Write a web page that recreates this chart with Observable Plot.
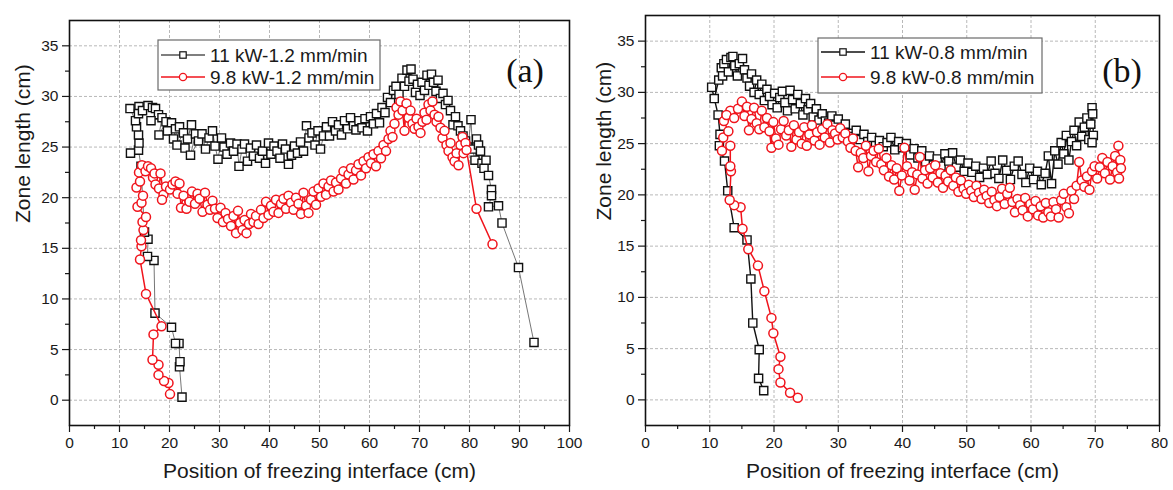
<!DOCTYPE html>
<html><head><meta charset="utf-8">
<script src="https://cdn.jsdelivr.net/npm/d3@7"></script>
<script src="https://cdn.jsdelivr.net/npm/@observablehq/plot@0.6"></script>
<style>
body{margin:0;background:#fff}
#wrap{position:relative;width:1173px;height:490px;overflow:hidden;background:#fff;font-family:"Liberation Sans",Arial,sans-serif}
.panel{position:absolute;top:0}
#overlay{position:absolute;left:0;top:0;pointer-events:none}
</style></head>
<body><div id="wrap"><div id="pa" class="panel" style="left:0"></div><div id="pb" class="panel" style="left:590px"></div></div>
<script>
// ---- data: [position of freezing interface (cm), zone length (cm)] ----
const a11kW = [[22.5,0.3],[22.0,3.3],[22.1,3.8],[21.9,5.6],[21.2,5.6],[20.4,7.2],[17.1,8.6],[16.9,13.8],[15.6,14.2],[15.7,15.9],[15.0,16.6],[14.3,23.1],[13.8,24.7],[12.2,24.4],[13.9,25.4],[13.8,26.2],[13.4,27.0],[13.2,27.6],[12.1,28.8],[13.9,29.0],[13.8,28.3],[14.6,28.6],[15.7,29.1],[16.6,28.9],[17.2,28.8],[17.8,28.2],[16.3,27.6],[18.5,27.9],[17.9,26.2],[19.3,27.5],[20.4,27.4],[19.6,26.6],[21.2,26.8],[20.8,25.8],[22.0,27.0],[21.5,25.2],[22.8,26.4],[23.6,25.8],[24.4,27.2],[23.1,24.9],[25.2,26.3],[24.2,24.2],[25.8,25.6],[26.5,26.3],[27.2,24.8],[27.9,25.9],[28.6,26.6],[29.1,25.1],[29.7,23.8],[30.4,25.9],[30.9,25.0],[31.5,24.3],[32.2,25.4],[32.8,24.6],[33.5,25.3],[33.9,23.1],[34.5,24.8],[35.0,25.3],[35.6,23.6],[36.2,24.9],[36.8,24.1],[37.4,25.2],[38.0,23.9],[38.6,24.6],[39.2,23.4],[39.8,25.4],[40.3,24.3],[40.9,25.1],[41.5,24.6],[42.1,23.9],[42.6,25.3],[43.2,24.8],[43.8,23.3],[44.4,24.2],[45.0,25.1],[45.6,24.4],[46.2,25.5],[46.8,24.6],[47.4,27.1],[47.9,25.9],[48.5,26.4],[49.1,25.2],[49.7,26.6],[50.2,24.8],[50.8,26.1],[51.4,27.0],[52.0,26.1],[52.6,27.5],[53.2,26.6],[53.8,27.2],[54.4,26.2],[55.0,27.6],[55.6,26.8],[56.2,27.9],[56.8,27.1],[57.3,26.7],[57.9,27.6],[58.5,26.9],[59.1,27.8],[59.6,26.6],[60.2,28.0],[60.8,27.3],[61.4,28.3],[62.0,27.4],[62.5,28.9],[63.1,28.4],[63.6,29.9],[64.2,29.4],[64.8,30.6],[65.3,31.0],[65.9,30.2],[66.5,31.8],[67.0,31.0],[67.5,32.6],[67.9,31.5],[68.3,32.7],[68.7,31.7],[69.2,30.4],[69.6,31.2],[70.1,30.1],[70.5,31.4],[71.0,30.6],[71.5,32.1],[71.9,31.1],[72.4,32.2],[72.8,31.4],[73.3,30.5],[73.7,31.6],[74.2,29.8],[74.7,30.3],[75.2,29.2],[75.7,29.6],[76.2,28.6],[76.7,27.2],[77.2,28.0],[77.7,27.1],[78.2,26.6],[78.7,26.1],[79.2,25.6],[79.7,25.0],[80.3,27.7],[80.6,24.8],[81.1,23.7],[81.4,25.8],[81.8,25.2],[82.2,24.6],[82.5,23.4],[82.9,22.9],[83.3,23.7],[83.8,22.2],[84.4,20.8],[84.4,20.2],[83.8,19.1],[85.8,19.2],[86.5,17.5],[89.8,13.1],[92.9,5.7]];
const a98kW = [[20.1,0.6],[19.8,1.7],[18.9,1.9],[17.8,2.5],[17.8,3.5],[16.6,4.0],[16.8,6.5],[18.4,7.3],[15.3,10.5],[14.1,13.9],[14.4,15.2],[14.3,15.8],[14.8,16.8],[14.6,17.6],[15.3,18.1],[13.6,19.1],[14.4,19.5],[14.7,20.2],[13.4,21.0],[14.1,21.6],[13.9,22.5],[14.5,23.2],[15.2,22.6],[15.7,23.1],[16.3,22.9],[16.7,22.0],[17.2,21.3],[17.0,22.4],[17.9,20.9],[18.2,22.4],[18.8,20.3],[19.3,21.1],[18.5,19.8],[20.1,20.8],[20.6,21.3],[21.2,21.6],[21.6,20.4],[22.0,21.4],[22.3,19.0],[22.8,20.2],[23.4,18.9],[24.0,19.6],[24.5,20.6],[25.1,19.4],[25.6,20.4],[26.0,19.9],[26.6,18.6],[27.1,20.5],[27.6,19.3],[28.1,18.8],[28.6,19.7],[29.1,18.9],[29.6,18.0],[30.2,19.0],[30.7,17.6],[31.2,18.5],[31.7,17.9],[32.3,17.2],[32.8,18.2],[33.3,16.5],[33.7,18.7],[34.1,17.5],[34.6,16.8],[35.0,17.8],[35.4,16.5],[35.9,17.4],[36.3,18.4],[36.8,17.6],[37.3,18.2],[37.8,17.4],[38.3,18.8],[38.8,18.0],[39.3,19.6],[39.8,18.3],[40.3,19.2],[40.8,18.6],[41.3,19.8],[41.8,18.5],[42.3,19.4],[42.8,19.9],[43.3,18.9],[43.8,20.2],[44.3,19.5],[44.8,18.8],[45.3,20.0],[45.8,19.4],[46.3,18.4],[46.8,20.5],[47.3,19.2],[47.8,18.5],[48.3,19.8],[48.8,20.6],[49.3,19.3],[49.8,20.9],[50.3,20.1],[50.8,21.4],[51.3,20.3],[51.8,21.1],[52.3,21.7],[52.8,20.6],[53.3,21.5],[53.8,20.8],[54.3,21.9],[54.8,22.6],[55.3,21.4],[55.8,22.3],[56.3,22.9],[56.8,21.8],[57.3,22.7],[57.8,23.3],[58.3,22.2],[58.8,23.6],[59.3,22.9],[59.8,24.0],[60.3,23.4],[60.8,24.3],[61.3,23.1],[61.8,24.6],[62.3,23.9],[62.8,25.2],[63.3,24.6],[63.8,25.8],[64.2,26.6],[64.6,26.0],[65.0,27.3],[65.4,28.9],[65.8,28.2],[66.2,29.5],[66.6,28.6],[67.0,26.6],[67.4,29.3],[67.8,27.9],[68.2,28.6],[68.6,27.3],[69.0,26.8],[69.4,27.8],[69.8,27.0],[70.2,26.4],[70.6,27.5],[71.0,28.4],[71.4,27.7],[71.8,29.2],[72.2,28.6],[72.6,29.5],[73.0,28.2],[73.4,27.5],[73.8,28.0],[74.2,26.9],[74.6,25.9],[75.0,26.6],[75.4,25.2],[75.8,24.6],[76.2,25.4],[76.6,24.0],[77.0,23.6],[77.4,24.4],[77.8,23.2],[78.2,25.2],[78.6,26.0],[78.8,24.4],[79.2,25.4],[79.4,24.7],[81.4,18.9],[84.6,15.4]];
const b11kW = [[18.4,0.9],[17.6,2.1],[17.7,4.9],[16.7,7.5],[16.4,11.8],[15.8,15.6],[13.8,16.8],[12.8,20.4],[12.3,23.3],[11.5,24.8],[11.6,25.9],[11.3,27.8],[10.3,30.5],[10.7,29.4],[11.4,31.2],[11.8,32.4],[12.2,32.8],[12.0,31.6],[12.6,33.2],[12.9,32.0],[13.3,33.4],[13.6,33.5],[13.9,32.6],[14.3,31.6],[14.6,32.8],[15.1,33.3],[15.4,32.2],[15.8,31.4],[16.2,30.6],[16.5,31.8],[16.9,30.0],[17.3,31.2],[17.7,29.8],[18.1,30.8],[18.5,29.2],[18.9,30.3],[19.3,29.6],[19.7,28.8],[20.1,29.9],[20.5,28.5],[20.9,29.5],[21.3,30.1],[21.7,29.0],[22.1,28.2],[22.5,30.2],[22.9,29.3],[23.3,28.4],[23.7,29.8],[24.1,28.9],[24.5,27.8],[24.9,29.4],[25.3,28.3],[25.7,28.9],[26.1,27.6],[26.6,28.4],[27.0,27.3],[27.5,27.9],[28.0,27.2],[28.5,27.0],[29.0,27.7],[29.5,26.8],[30.0,27.4],[30.6,26.5],[31.1,26.9],[31.7,26.0],[32.2,25.7],[32.8,26.3],[33.4,25.4],[34.0,25.9],[34.6,25.2],[35.2,25.6],[35.8,24.8],[36.4,25.3],[37.0,24.7],[37.6,25.1],[38.2,25.6],[38.8,24.4],[39.4,25.2],[40.0,24.6],[40.6,25.0],[41.2,23.9],[41.8,24.5],[42.4,23.6],[43.0,24.3],[43.6,23.2],[44.2,23.8],[44.8,22.9],[45.4,23.5],[46.0,22.8],[46.6,24.0],[47.2,23.3],[47.8,24.1],[48.4,22.7],[49.0,23.4],[49.6,22.3],[50.2,23.1],[50.8,22.2],[51.4,22.8],[52.0,21.7],[52.6,22.6],[53.2,22.0],[53.8,23.3],[54.4,22.1],[55.0,21.6],[55.6,23.4],[56.2,22.4],[56.8,21.5],[57.4,22.8],[58.0,23.3],[58.6,22.0],[59.2,21.2],[59.8,22.6],[60.4,21.5],[61.0,22.3],[61.6,21.0],[62.2,22.1],[62.7,23.8],[63.2,21.1],[63.7,24.3],[64.2,23.0],[64.7,25.1],[65.1,24.0],[65.5,25.8],[65.9,23.4],[66.3,25.2],[66.7,26.3],[67.1,24.8],[67.5,27.1],[67.9,25.7],[68.3,26.6],[68.7,27.5],[69.0,25.4],[69.3,26.9],[69.5,28.5],[69.6,27.9],[69.7,25.8],[69.5,25.1]];
const b98kW = [[23.7,0.2],[22.5,0.7],[21.0,1.7],[20.7,3.0],[21.0,4.2],[19.9,6.5],[19.6,8.0],[18.5,10.6],[17.5,13.1],[16.0,14.7],[15.1,16.7],[14.8,18.8],[13.8,19.0],[13.1,19.5],[13.3,22.3],[13.2,22.8],[13.2,24.8],[11.9,24.3],[12.1,25.6],[12.9,26.2],[12.2,27.2],[13.2,28.2],[12.6,27.8],[13.8,27.5],[14.4,28.4],[15.0,29.1],[15.4,27.7],[15.8,28.6],[16.1,26.3],[16.5,27.4],[16.9,28.5],[17.3,27.0],[17.7,26.4],[18.1,28.2],[18.5,26.6],[18.9,27.5],[19.3,26.2],[19.6,24.6],[19.9,27.1],[20.3,25.5],[20.7,24.9],[21.1,26.4],[21.5,27.2],[21.9,25.8],[22.3,26.3],[22.7,24.7],[23.1,26.8],[23.5,25.4],[23.9,26.1],[24.3,25.0],[24.7,26.6],[25.1,24.8],[25.5,25.9],[25.9,26.8],[26.3,25.3],[26.7,26.1],[27.1,24.9],[27.5,26.4],[27.9,25.6],[28.3,26.9],[28.7,25.1],[29.1,26.3],[29.5,26.0],[29.9,25.4],[30.3,26.5],[30.7,25.6],[31.1,26.0],[31.5,25.2],[31.9,24.6],[32.3,25.5],[32.7,24.3],[33.1,22.7],[33.5,24.1],[33.9,23.6],[34.3,24.8],[34.7,22.3],[35.1,23.8],[35.5,24.3],[35.9,23.2],[36.3,24.5],[36.7,23.0],[37.1,22.4],[37.5,23.6],[37.9,21.8],[38.3,22.9],[38.7,21.5],[39.1,22.6],[39.5,20.4],[39.9,21.9],[40.3,24.6],[40.7,22.8],[41.1,21.4],[41.5,22.2],[41.9,20.5],[42.3,22.0],[42.7,23.7],[43.1,21.6],[43.5,22.4],[43.9,21.1],[44.3,22.6],[44.7,21.7],[45.1,22.9],[45.5,21.2],[45.9,22.1],[46.3,20.7],[46.7,21.9],[47.1,21.3],[47.5,22.4],[47.9,20.9],[48.3,21.7],[48.7,20.3],[49.1,21.4],[49.5,20.6],[49.9,20.1],[50.3,21.0],[50.7,20.4],[51.1,19.8],[51.5,20.9],[51.9,20.2],[52.3,19.6],[52.7,20.5],[53.1,19.9],[53.5,19.2],[53.9,20.3],[54.3,19.5],[54.7,18.9],[55.1,19.8],[55.5,20.6],[55.9,19.1],[56.3,20.1],[56.7,20.7],[57.1,19.3],[57.5,18.3],[57.9,19.6],[58.3,19.0],[58.7,18.5],[59.1,19.7],[59.5,17.9],[59.9,19.1],[60.3,18.6],[60.7,19.4],[61.1,18.0],[61.5,18.9],[61.9,17.8],[62.3,19.2],[62.7,18.3],[63.1,17.9],[63.5,19.3],[63.9,18.6],[64.3,17.8],[64.7,19.5],[65.1,20.1],[65.5,18.8],[65.9,18.2],[66.3,20.4],[66.7,19.6],[67.1,20.9],[67.5,23.2],[67.9,21.4],[68.3,20.8],[68.7,21.8],[69.1,20.5],[69.5,22.3],[69.9,22.8],[70.3,21.6],[70.7,22.7],[71.1,23.6],[71.5,22.1],[71.9,23.2],[72.3,21.5],[72.7,22.8],[73.1,23.8],[73.4,22.2],[73.6,24.8],[73.7,21.6],[73.9,23.4],[74.0,22.6]];

const seriesNamesA = ["11 kW-1.2 mm/min", "9.8 kW-1.2 mm/min"];
const seriesNamesB = ["11 kW-0.8 mm/min", "9.8 kW-0.8 mm/min"];
const panelLabels = ["(a)", "(b)"];
const xTitle = "Position of freezing interface (cm)";
const yTitle = "Zone length (cm)";
const xMajorA = [0,10,20,30,40,50,60,70,80,90,100];
const xMinorA = [5,15,25,35,45,55,65,75,85,95];
const xMajorB = [0,10,20,30,40,50,60,70,80];
const xMinorB = [5,15,25,35,45,55,65,75];
const yMajor = [0,5,10,15,20,25,30,35];
const yMinor = [2.5,7.5,12.5,17.5,22.5,27.5,32.5];

const RED = "#f0141c";

function panel({width, ml, mr, mt, mb, xDomain, xMajor, xMinor, black, red, blackLine, blackLineWidth, yTitleDx}) {
  return Plot.plot({
    width, height: 490,
    marginLeft: ml, marginRight: mr, marginTop: mt, marginBottom: mb,
    x: {domain: xDomain},
    y: {domain: [-2.5, 37.5]},
    style: {fontFamily: "'Liberation Sans', Arial, sans-serif", fontSize: "15px", color: "#1a1a1a", background: "white"},
    marks: [
      Plot.gridX(xMajor.slice(1, -1), {stroke: "#b8b8b8", strokeOpacity: 1, strokeWidth: 1, strokeDasharray: "3,2"}),
      Plot.gridY(yMajor, {stroke: "#b8b8b8", strokeOpacity: 1, strokeWidth: 1, strokeDasharray: "3,2"}),
      Plot.axisX(xMajor, {tickSize: 7, tickPadding: 4, label: null, fontSize: 15.5, strokeWidth: 1.2}),
      Plot.axisX(xMinor, {tickSize: 4, tickFormat: () => "", label: null, strokeWidth: 1.2}),
      Plot.axisY(yMajor, {tickSize: 7, tickPadding: 4, label: null, fontSize: 15.5, strokeWidth: 1.2}),
      Plot.axisY(yMinor, {tickSize: 4, tickFormat: () => "", label: null, strokeWidth: 1.2}),
      Plot.line(black, {x: d => d[0], y: d => d[1], stroke: blackLine, strokeWidth: blackLineWidth}),
      Plot.dot(black, {x: d => d[0], y: d => d[1], symbol: "square", r: 4.6, stroke: "#111", strokeWidth: 1.4, fill: "white"}),
      Plot.line(red, {x: d => d[0], y: d => d[1], stroke: RED, strokeWidth: 1.5}),
      Plot.dot(red, {x: d => d[0], y: d => d[1], symbol: "circle", r: 4.5, stroke: RED, strokeWidth: 1.5, fill: "white"}),
      Plot.frame({stroke: "#111", strokeWidth: 1.6}),
      Plot.text([xTitle], {text: d => d, frameAnchor: "bottom", dy: 52, fontSize: 21, fill: "#1a1a1a"}),
      Plot.text([yTitle], {text: d => d, frameAnchor: "left", rotate: -90, dx: yTitleDx, fontSize: 21, fill: "#1a1a1a"})
    ]
  });
}

document.getElementById("pa").appendChild(panel({width: 590, ml: 69, mr: 21, mt: 20, mb: 65, xDomain: [0, 100], xMajor: xMajorA, xMinor: xMinorA, black: a11kW, red: a98kW, blackLine: "#666", blackLineWidth: 0.9, yTitleDx: -46}));
document.getElementById("pb").appendChild(panel({width: 583, ml: 55, mr: 14, mt: 15, mb: 65, xDomain: [0, 80], xMajor: xMajorB, xMinor: xMinorB, black: b11kW, red: b98kW, blackLine: "#111", blackLineWidth: 1.4, yTitleDx: -41}));

// ---- overlay: legends and panel labels ----
const ov = d3.select("#wrap").append("svg").attr("id", "overlay").attr("width", 1173).attr("height", 490);
function legend(x, y, w, h, rows, names, lineColorBlack) {
  const g = ov.append("g").attr("transform", `translate(${x},${y})`);
  g.append("rect").attr("width", w).attr("height", h).attr("fill", "white").attr("stroke", "#6a6a6a").attr("stroke-width", 1.2);
  const colors = [lineColorBlack, RED];
  rows.forEach((ry, i) => {
    g.append("line").attr("x1", 3).attr("x2", 47).attr("y1", ry).attr("y2", ry).attr("stroke", colors[i]).attr("stroke-width", 1.6);
    if (i === 0) g.append("rect").attr("x", 25 - 3.2).attr("y", ry - 3.2).attr("width", 6.4).attr("height", 6.4).attr("fill", "white").attr("stroke", "#111").attr("stroke-width", 1.2);
    else g.append("circle").attr("cx", 25).attr("cy", ry).attr("r", 3.6).attr("fill", "white").attr("stroke", RED).attr("stroke-width", 1.3);
    g.append("text").attr("x", 52).attr("y", ry).attr("dy", "0.35em").attr("font-size", 19)
      .attr("font-family", "'Liberation Sans', Arial, sans-serif").attr("fill", "#1a1a1a").text(names[i]);
  });
}
legend(158, 40, 222, 50, [15, 37], seriesNamesA, "#555");
legend(818, 38, 224, 55, [14, 39], seriesNamesB, "#111");
[[525, 70], [1122, 70]].forEach(([cx, cy], i) => {
  ov.append("text").attr("x", cx).attr("y", cy).attr("dy", "0.35em").attr("text-anchor", "middle")
    .attr("font-family", "'Liberation Serif', 'Times New Roman', serif").attr("font-size", 34).attr("fill", "#111").text(panelLabels[i]);
});
</script></body></html>
